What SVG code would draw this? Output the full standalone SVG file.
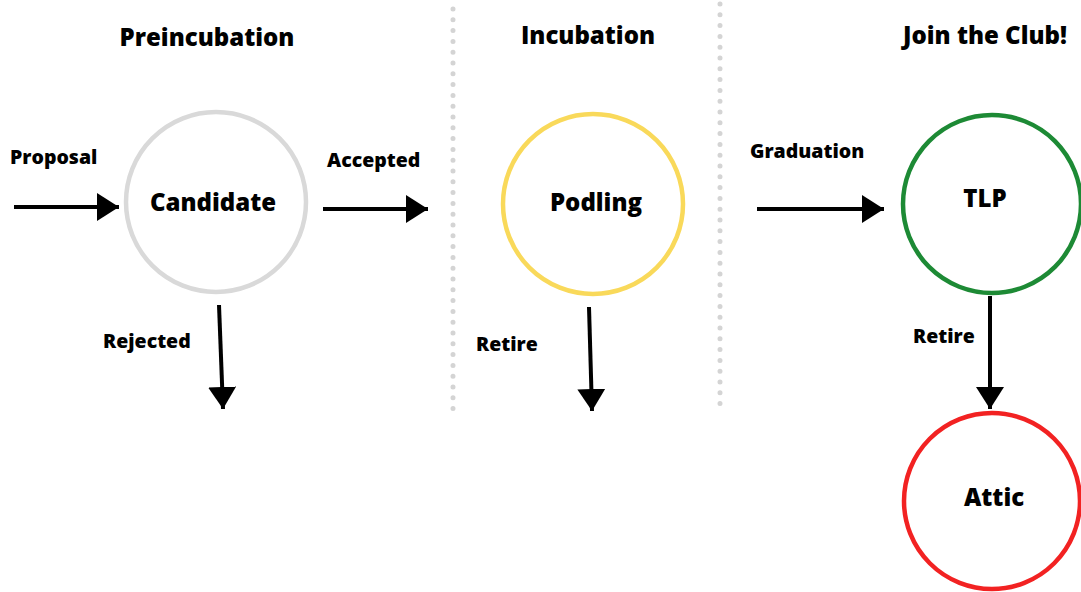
<svg xmlns="http://www.w3.org/2000/svg" width="1081" height="592" viewBox="0 0 1081 592">
<defs>
<style>
text{font-family:"Open Sans","Liberation Sans",sans-serif;font-weight:800;fill:#000;}
.h{font-size:24px;text-anchor:middle;}
.n{font-size:24px;text-anchor:middle;}
.l{font-size:19.5px;}
.c{fill:none;stroke-width:4.5;}
.a{stroke:#000;stroke-width:4;fill:none;marker-end:url(#ah);}
.d{stroke:#d4d4d4;stroke-width:5;stroke-linecap:round;stroke-dasharray:0 10.8;fill:none;}
</style>
<marker id="ah" markerUnits="userSpaceOnUse" markerWidth="24" markerHeight="30" refX="22" refY="14" orient="auto">
<path d="M0,0 L22,14 L0,28 z" fill="#000"/>
</marker>
</defs>
<rect width="1081" height="592" fill="#fff"/>
<g id="dividers">
<path class="d" d="M453,9 V410"/>
<path class="d" d="M720,4 V405"/>
</g>
<g id="headers">
<text class="h" x="207" y="46">Preincubation</text>
<text class="h" x="588" y="44">Incubation</text>
<text class="h" x="985" y="44">Join the Club!</text>
</g>
<g id="candidate">
<circle class="c" cx="216" cy="202" r="90" stroke="#d9d9d9"/>
<text class="n" x="213" y="211">Candidate</text>
</g>
<g id="podling">
<circle class="c" cx="593" cy="204" r="90" stroke="#f9d95a"/>
<text class="n" x="596" y="211">Podling</text>
</g>
<g id="tlp">
<circle class="c" cx="992" cy="204" r="89" stroke="#1d8a35"/>
<text class="n" x="985" y="207">TLP</text>
</g>
<g id="attic">
<circle class="c" cx="992" cy="501" r="88" stroke="#f22222"/>
<text class="n" x="994" y="506">Attic</text>
</g>
<g id="connectors">
<path class="a" d="M14,207 H119"/>
<path class="a" d="M323,209 H428"/>
<path class="a" d="M757,209 H884"/>
<path class="a" d="M219,305 L223,409"/>
<path class="a" d="M589,307 L592,411"/>
<path class="a" d="M990,296 V409"/>
</g>
<g id="labels">
<text class="l" x="10" y="164">Proposal</text>
<text class="l" x="327" y="167">Accepted</text>
<text class="l" x="750" y="158">Graduation</text>
<text class="l" x="103" y="348">Rejected</text>
<text class="l" x="476" y="351">Retire</text>
<text class="l" x="913" y="343">Retire</text>
</g>
</svg>
